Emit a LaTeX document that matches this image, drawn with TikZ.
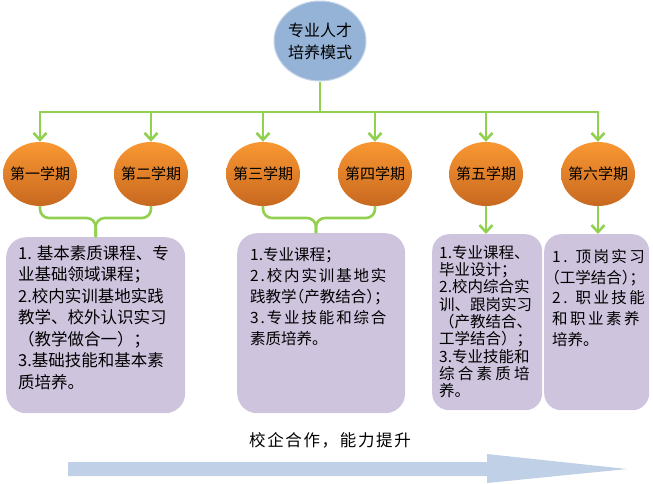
\documentclass[tikz,border=0pt]{standalone}
\usepackage{fontspec}
\setmainfont{Noto Sans CJK SC}
\usepackage{xcolor}
\usepackage{tikz}
\usetikzlibrary{arrows.meta,shapes.geometric,calc}
\definecolor{lgreen}{RGB}{146,208,80}
\definecolor{topblue}{RGB}{149,179,215}
\definecolor{boxlilac}{RGB}{206,196,222}
\definecolor{arrblue}{RGB}{192,208,230}
\definecolor{orgtop}{RGB}{249,152,50}
\definecolor{orgbot}{RGB}{200,104,32}
\newcommand\wide[2][16]{{\addfontfeatures{LetterSpace=#1}#2}}
\newcommand\hw[1]{{\addfontfeatures{RawFeature=+halt}#1}}

\begin{document}
\begin{tikzpicture}[x=1pt,y=-1pt,
 link/.style={lgreen,line width=2.6pt},
 arr/.style={link,-{Straight Barb[length=7pt,width=13pt]}},
 term/.style={ellipse,minimum width=74pt,minimum height=64pt,inner sep=-8pt,top color=orgtop,bottom color=orgbot,font=\fontsize{15}{17}\selectfont},
 box/.style={rectangle,rounded corners=20pt,fill=boxlilac,inner sep=0pt,anchor=north west},
 txt/.style={anchor=north west,inner sep=0pt,align=left}]
\useasboundingbox(0,0)rectangle(653,483);
% top and the six terms
\node[ellipse,fill=topblue,draw=topblue!55!white,line width=1pt,minimum width=92pt,minimum height=80pt,inner sep=0pt,align=center,font=\fontsize{16}{22}\selectfont](top)at(320,41){专业人才\\培养模式};
\node[term](s1)at(40,174){第一学期};\node[term](s2)at(151,174){第二学期};
\node[term](s3)at(263,174){第三学期};\node[term](s4)at(375,174){第四学期};
\node[term](s5)at(486,174){第五学期};\node[term](s6)at(598,174){第六学期};
\coordinate(bar)at(320,112);
\draw[link](top)--(bar);
\foreach \i in {1,...,6}\draw[arr](bar)-|(s\i.north);
% boxes
\node[box,minimum width=179pt,minimum height=176pt](b1)at(6,237){};
\node[box,minimum width=168pt,minimum height=180pt](b2)at(237,233){};
\node[box,rounded corners=17pt,minimum width=110pt,minimum height=176pt](b3)at(432,234){};
\node[box,rounded corners=17pt,minimum width=105pt,minimum height=176pt](b4)at(544,234){};
\coordinate(k1)at($(b1.north)+(0,-19)$);\coordinate(k2)at(316,218);
\draw[link,rounded corners=9pt](s1.south)|-(k1)--(b1.north);
\draw[link,rounded corners=9pt](s2.south)|-(k1)--(b1.north);
\draw[link,rounded corners=9pt](s3.south)|-(k2)--(k2|-b2.north);
\draw[link,rounded corners=9pt](s4.south)|-(k2)--(k2|-b2.north);
\draw[arr](s5.south)--(s5.south|-b3.north);
\draw[arr](s6.south)--(s6.south|-b4.north);
% box texts
\node[txt,font=\fontsize{16.5}{21.5}\selectfont]at(18,245){1. 基本素质课程、专\\业基础领域课程；\\2.校内实训基地实践\\教学、校外认识实习\\（教学做合一）；\\3.基础技能和基本素\\质培养。};
\node[txt,font=\fontsize{15.5}{21}\selectfont]at(250,247){1.专业课程；\\\wide[12]{2.校内实训基地实}\\践教学\hw{（}产教结合\hw{）；}\\\wide[12]{3.专业技能和综合}\\素质培养。};
\node[txt,font=\fontsize{15.5}{17.3}\selectfont]at(439,245){1.专业课程、\\毕业设计；\\2.校内综合实\\训、跟岗实习\\（产教结合、\\工学结合）；\\3.专业技能和\\\wide[21]{综合素质培}\\养。};
\node[txt,font=\fontsize{15.5}{20.8}\selectfont]at(552,249){\wide{1. 顶岗实习}\\\hw{（}工学结合\hw{）；}\\\wide{2. 职业技能}\\\wide{和职业素养}\\培养。};
% bottom
\node[font=\fontsize{16.5}{20}\selectfont](motto)at(330,440){\wide[10]{校企合作，能力提升}};
\fill[arrblue](68,462)--(487,462)--(487,454)--(627,469)--(487,483)--(487,476)--(68,476)--cycle;
\end{tikzpicture}
\end{document}
